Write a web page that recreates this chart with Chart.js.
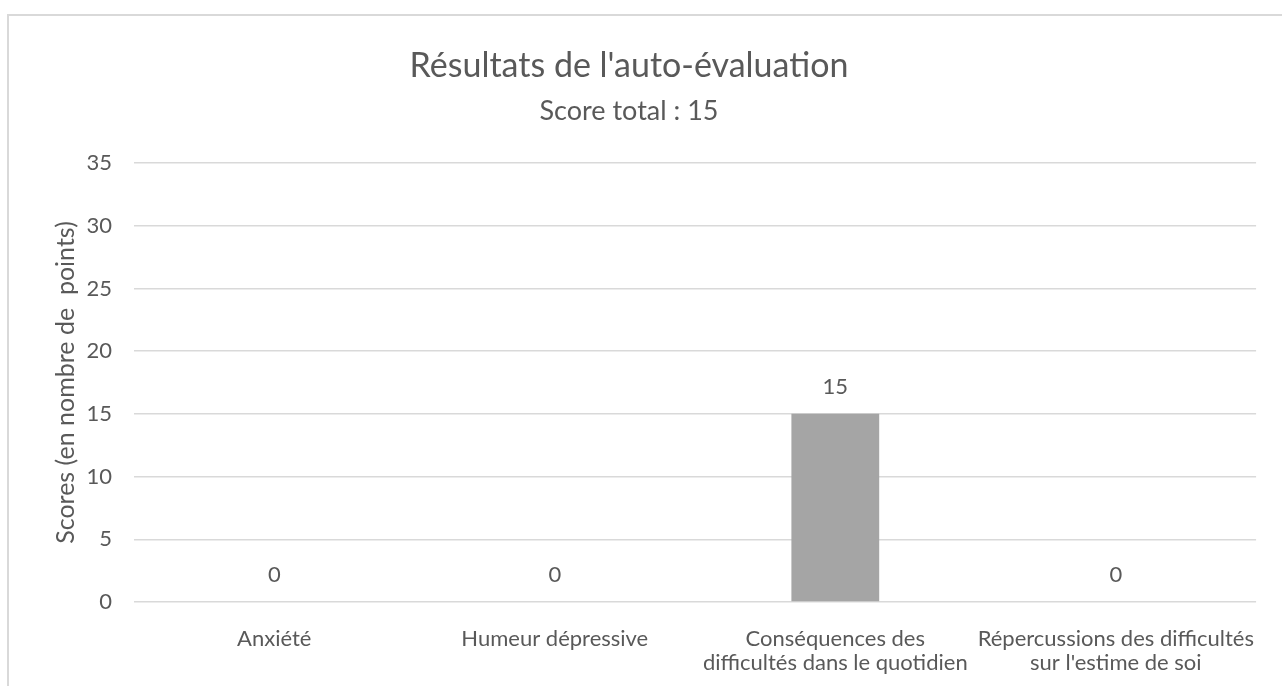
<!DOCTYPE html>
<html>
<head>
<meta charset="utf-8">
<script src="https://cdn.jsdelivr.net/npm/chart.js@4/dist/chart.umd.min.js"></script>
<style>
  html, body { margin: 0; padding: 0; background: #fff; overflow: hidden; }
  #wrap { position: relative; width: 1282px; height: 686px; }
</style>
</head>
<body>
<div id="wrap"><canvas id="scoreChart" width="1282" height="686"></canvas></div>
<script>
// chart data
const categories = [
    'Anxiété',
    'Humeur dépressive',
    ['Conséquences des', 'difficultés dans le quotidien'],
    ['Répercussions des difficultés', "sur l'estime de soi"]
];
const scores = [0, 0, 15, 0];
const yTicks = [0, 5, 10, 15, 20, 25, 30, 35];

const textColor = '#595959';
const fontFamily = 'Lato, "Open Sans", sans-serif';

// light frame around the chart, cut off on the right and bottom like the original
const framePlugin = {
    id: 'frame',
    beforeDraw(chart) {
        const ctx = chart.ctx;
        ctx.save();
        ctx.strokeStyle = '#d9d9d9';
        ctx.lineWidth = 2;
        ctx.beginPath();
        ctx.moveTo(8, chart.height);
        ctx.lineTo(8, 15);
        ctx.lineTo(chart.width, 15);
        ctx.stroke();
        ctx.restore();
    }
};

// value labels above each bar
const valueLabels = {
    id: 'valueLabels',
    afterDatasetsDraw(chart) {
        const ctx = chart.ctx;
        ctx.save();
        ctx.fillStyle = textColor;
        ctx.font = '22px ' + fontFamily;
        ctx.textAlign = 'center';
        ctx.textBaseline = 'middle';
        chart.getDatasetMeta(0).data.forEach((bar, i) => {
            ctx.fillText(String(scores[i]), bar.x, bar.y - 27);
        });
        ctx.restore();
    }
};

const ctx = document.getElementById('scoreChart').getContext('2d');
new Chart(ctx, {
    type: 'bar',
    data: {
        labels: categories,
        datasets: [{
            label: 'Scores',
            data: scores,
            backgroundColor: '#a5a5a5',
            borderWidth: 0,
            barPercentage: 0.313,
            categoryPercentage: 1
        }]
    },
    options: {
        responsive: false,
        animation: false,
        layout: {
            padding: { left: 0, right: 24, top: 0, bottom: 0 }
        },
        plugins: {
            legend: { display: false },
            tooltip: { enabled: false },
            title: {
                display: true,
                text: "Résultats de l'auto-évaluation",
                color: textColor,
                font: { family: fontFamily, size: 34, weight: 'normal', lineHeight: 1.2 },
                padding: { top: 46, bottom: 8 }
            },
            subtitle: {
                display: true,
                text: 'Score total : 15',
                color: textColor,
                font: { family: fontFamily, size: 27, weight: 'normal', lineHeight: 1.2 },
                padding: { top: 0, bottom: 35.8 }
            }
        },
        scales: {
            x: {
                grid: { display: false, drawTicks: false },
                border: { display: false },
                ticks: {
                    color: textColor,
                    font: { family: fontFamily, size: 22, lineHeight: 1.1 },
                    padding: 25,
                    maxRotation: 0,
                    autoSkip: false
                },
                afterFit(scale) { scale.height = 84; }
            },
            y: {
                min: 0,
                max: 35,
                afterBuildTicks(scale) {
                    scale.ticks = yTicks.map(v => ({ value: v }));
                },
                grid: { color: '#d9d9d9', lineWidth: 1.5, drawTicks: false },
                border: { display: false },
                ticks: {
                    color: textColor,
                    font: { family: fontFamily, size: 22 },
                    padding: 22
                },
                title: {
                    display: true,
                    text: 'Scores (en nombre de  points)',
                    color: textColor,
                    font: { family: fontFamily, size: 25, lineHeight: 1.2 },
                    padding: { top: 51, bottom: 0 }
                },
                afterFit(scale) { scale.width = 134; }
            }
        }
    },
    plugins: [framePlugin, valueLabels]
});
</script>
</body>
</html>
